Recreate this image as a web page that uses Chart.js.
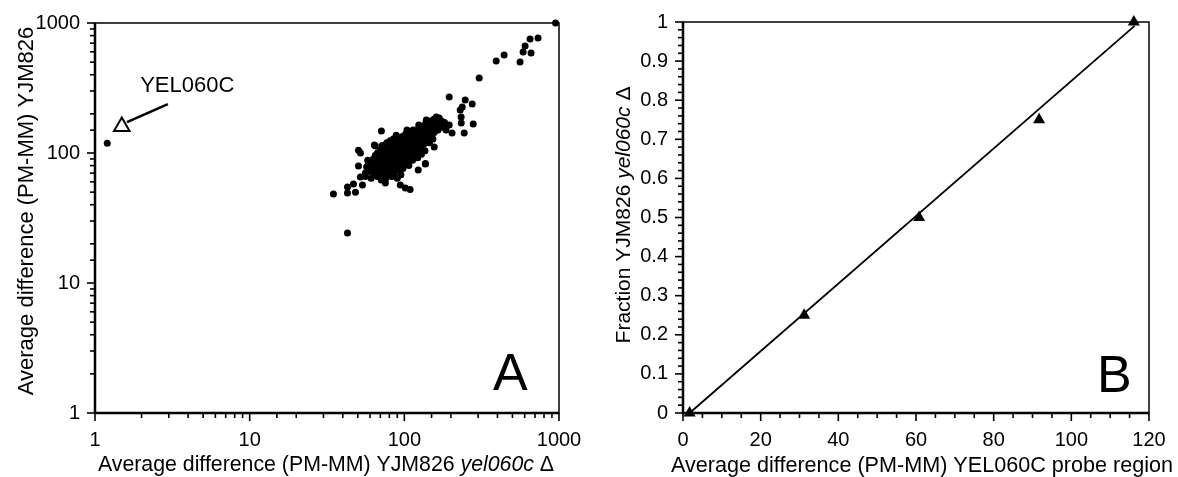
<!DOCTYPE html>
<html>
<head>
<meta charset="utf-8">
<script src="https://cdn.jsdelivr.net/npm/chart.js@4.4.1/dist/chart.umd.min.js"></script>
<style>
  body { margin: 0; background: #fff; }
  #wrap { position: relative; width: 1178px; height: 477px; }
  .box { position: absolute; top: 0; height: 477px; }
  #boxA { left: 0; width: 620px; }
  #boxB { left: 600px; width: 578px; }
</style>
</head>
<body>
<div id="wrap">
  <div class="box" id="boxA"><canvas id="chartA"></canvas></div>
  <div class="box" id="boxB"><canvas id="chartB"></canvas></div>
</div>
<script>
const FONT = "'Liberation Sans', Arial, Helvetica, sans-serif";

// Panel A: average difference per gene, [yel060c deletion strain, YJM826]
const genePairs = [
  [1.2, 119],
  // outliers around the cloud
  [34.8, 48.4], [42.9, 24.2], [42.9, 49.3], [48.3, 50], [42.9, 54.8], [46.9, 57.8],
  [53.6, 56.7], [52, 65.4], [50.5, 79.4], [50.5, 105], [52, 100], [65, 113], [71.1, 147.6],
  [94.2, 56.7], [101.5, 53.8], [109, 52.5], [123, 74], [136.6, 82.3], [75.4, 58.8],
  [69, 67.7], [58.6, 83.8], [56, 70.2], [61.2, 74], [64, 115], [88.6, 137], [104, 150],
  [124, 164], [139, 179], [145, 121], [137, 83], [156, 111], [176, 164],
  // upper tail
  [160.8, 189], [138.7, 179.4], [173, 170], [195, 164], [203.5, 142.6], [243.8, 142.6],
  [278.7, 167], [233.3, 170], [233, 189], [229.7, 214], [236.7, 225.9], [247.6, 255.7],
  [274.7, 238.3], [195, 269.6], [304.8, 377.5], [392.6, 510], [441.7, 567], [560, 501],
  [586, 598], [603.6, 665], [659.7, 588], [650, 753], [732, 767], [950, 1000],
  // dense cloud
  [56, 66], [57, 78], [58, 88], [59, 72], [60, 82], [61, 64], [62, 76], [63, 90], [64, 70],
  [64, 84], [65, 96], [66, 74], [66, 88], [67, 66], [67, 100], [68, 80], [68, 92], [69, 72],
  [70, 86], [70, 106], [71, 62], [71, 78], [72, 94], [72, 114], [73, 70], [73, 84], [74, 100],
  [74, 90], [75, 76], [75, 110], [76, 64], [76, 88], [76, 96], [77, 80], [77, 104], [77, 120],
  [78, 72], [78, 92], [79, 84], [79, 100], [79, 112], [80, 68], [80, 78], [80, 96], [81, 88],
  [81, 106], [81, 124], [82, 74], [82, 82], [82, 100], [83, 92], [83, 114], [83, 66], [84, 86],
  [84, 104], [84, 96], [85, 78], [85, 110], [85, 128], [86, 70], [86, 90], [86, 100], [87, 84],
  [87, 96], [87, 118], [88, 76], [88, 106], [88, 92], [89, 100], [89, 112], [89, 132], [90, 64],
  [90, 86], [90, 96], [91, 80], [91, 104], [91, 120], [92, 90], [92, 108], [93, 74], [93, 98],
  [93, 114], [94, 84], [94, 102], [94, 126], [95, 92], [95, 110], [95, 68], [96, 98], [96, 118],
  [97, 86], [97, 104], [97, 134], [98, 76], [98, 94], [98, 110], [99, 100], [99, 122], [100, 90],
  [100, 104], [100, 114], [101, 82], [101, 96], [101, 128], [102, 108], [102, 140], [103, 94],
  [103, 100], [103, 118], [104, 86], [104, 110], [105, 102], [105, 124], [105, 136], [106, 96],
  [106, 114], [107, 80], [107, 106], [107, 128], [108, 100], [108, 118], [109, 92], [109, 112],
  [109, 144], [110, 104], [110, 124], [111, 96], [111, 134], [112, 110], [112, 118], [113, 88],
  [113, 128], [114, 102], [114, 150], [115, 114], [115, 140], [116, 96], [116, 122], [117, 108],
  [117, 132], [118, 116], [119, 100], [119, 146], [120, 126], [120, 112], [121, 136], [122, 92],
  [122, 118], [123, 130], [124, 106], [124, 156], [125, 122], [126, 140], [127, 112], [128, 132],
  [129, 148], [129, 98], [130, 124], [131, 160], [132, 140], [133, 116], [134, 150], [135, 130],
  [136, 104], [137, 168], [138, 142], [139, 122], [140, 156], [141, 134], [143, 172], [144, 148],
  [145, 120], [146, 160], [148, 136], [149, 176], [150, 152], [152, 166], [153, 128], [155, 182],
  [156, 144], [158, 170], [160, 158], [163, 178], [165, 150], [168, 186], [170, 166], [174, 176],
  [178, 158], [182, 172], [186, 150],
  [84, 108], [86, 112], [90, 116], [92, 100], [96, 106], [98, 102], [100, 98], [102, 116],
  [104, 122], [106, 120], [108, 126], [110, 116], [112, 126], [114, 120], [116, 130], [118, 138],
  [120, 134], [124, 140], [126, 130], [128, 144], [132, 150], [134, 142], [136, 158], [140, 164],
  [78, 84], [80, 90], [82, 92], [88, 86], [92, 84], [94, 92], [96, 88], [100, 82], [104, 96]
];
const logTickLabels = [1, 10, 100, 1000];

// expected spot of YEL060C (open triangle) and its callout, in data units
const markerX = [1.49];
const markerY = [160];
const calloutFrom = [2.96, 238];
const calloutTo = [1.61, 173];
const calloutLabel = 'YEL060C';
const calloutAt = [3.95, 294];

// Panel B: probe signal vs fraction of deletion strain
const probeSignal = [1.7, 31.2, 60.8, 91.7, 116.1];
const fraction = [0, 0.25, 0.5, 0.75, 1];
const fitX = [1.7, 116.3];
const fitY = [0, 0.99];
const bXTickLabels = [0, 20, 40, 60, 80, 100, 120];
const bYTickLabels = [0, 0.1, 0.2, 0.3, 0.4, 0.5, 0.6, 0.7, 0.8, 0.9, 1];

function richText(ctx, segs, size, x, y, rotate) {
  ctx.save();
  ctx.translate(x, y);
  if (rotate) ctx.rotate(-Math.PI / 2);
  ctx.fillStyle = '#000';
  ctx.textBaseline = 'alphabetic';
  const widths = segs.map(s => {
    ctx.font = (s.italic ? 'italic ' : '') + size + 'px ' + FONT;
    return ctx.measureText(s.text).width;
  });
  let cx = -widths.reduce((a, b) => a + b, 0) / 2;
  segs.forEach((s, i) => {
    ctx.font = (s.italic ? 'italic ' : '') + size + 'px ' + FONT;
    ctx.fillText(s.text, cx, 0);
    cx += widths[i];
  });
  ctx.restore();
}

// box, tick marks, axis titles and panel letter
const framePlugin = {
  id: 'frame',
  afterDraw(chart, args, opts) {
    const { ctx, chartArea: a, scales } = chart;
    ctx.save();
    ctx.strokeStyle = '#000';
    ctx.lineWidth = 1.6;
    scales.x.ticks.forEach(t => {
      const px = scales.x.getPixelForValue(t.value);
      const len = t.label ? 8 : 5;
      ctx.beginPath();
      ctx.moveTo(px, a.bottom);
      ctx.lineTo(px, a.bottom + len);
      ctx.stroke();
    });
    scales.y.ticks.forEach(t => {
      const py = scales.y.getPixelForValue(t.value);
      const len = t.label ? 8 : 5;
      ctx.beginPath();
      ctx.moveTo(a.left, py);
      ctx.lineTo(a.left - len, py);
      ctx.stroke();
    });
    ctx.lineWidth = 1.5;
    ctx.strokeRect(a.left, a.top, a.right - a.left, a.bottom - a.top);
    ctx.lineWidth = 2.5;
    ctx.beginPath();
    ctx.moveTo(a.left, a.top);
    ctx.lineTo(a.left, a.bottom);
    ctx.lineTo(a.right, a.bottom);
    ctx.stroke();
    ctx.restore();

    richText(ctx, opts.xTitle.segs, opts.xTitle.size, opts.xTitle.x, opts.xTitle.y, false);
    richText(ctx, opts.yTitle.segs, opts.yTitle.size, opts.yTitle.x, opts.yTitle.y, true);

    ctx.save();
    ctx.fillStyle = '#000';
    ctx.font = '52px ' + FONT;
    ctx.textAlign = 'left';
    ctx.textBaseline = 'alphabetic';
    ctx.fillText(opts.letter.text, opts.letter.x, opts.letter.y);
    ctx.restore();
  }
};

const calloutPlugin = {
  id: 'callout',
  afterDatasetsDraw(chart) {
    const { ctx, scales: { x, y } } = chart;
    ctx.save();
    ctx.strokeStyle = '#000';
    ctx.lineWidth = 2.5;
    ctx.beginPath();
    ctx.moveTo(x.getPixelForValue(calloutFrom[0]), y.getPixelForValue(calloutFrom[1]));
    ctx.lineTo(x.getPixelForValue(calloutTo[0]), y.getPixelForValue(calloutTo[1]));
    ctx.stroke();
    ctx.fillStyle = '#000';
    ctx.font = '22px ' + FONT;
    ctx.textAlign = 'center';
    ctx.textBaseline = 'alphabetic';
    ctx.fillText(calloutLabel, x.getPixelForValue(calloutAt[0]), y.getPixelForValue(calloutAt[1]));
    ctx.restore();
  }
};

const tickFont = { family: FONT, size: 20 };
const noGrid = { display: false, drawTicks: false };

function fixX(h) {
  return s => { s.height = h; s.paddingLeft = 0; s.paddingRight = 0; };
}
function fixY(w) {
  return s => { s.width = w; s.paddingTop = 0; s.paddingBottom = 0; };
}

new Chart(document.getElementById('chartA'), {
  type: 'scatter',
  data: {
    datasets: [
      {
        data: markerX.map((v, i) => ({ x: v, y: markerY[i] })),
        pointStyle: 'triangle',
        pointRadius: 9,
        pointHoverRadius: 9,
        backgroundColor: '#fff',
        borderColor: '#000',
        borderWidth: 2
      },
      {
        data: genePairs.map(([x, y]) => ({ x, y })),
        pointRadius: 3.5,
        pointHoverRadius: 3.5,
        backgroundColor: '#000',
        borderWidth: 0,
        clip: false
      }
    ]
  },
  options: {
    responsive: true,
    maintainAspectRatio: false,
    animation: false,
    events: [],
    layout: { padding: { top: 23, right: 61, bottom: 0, left: 0 } },
    plugins: {
      legend: { display: false },
      tooltip: { enabled: false },
      frame: {
        xTitle: { x: 326, y: 471, size: 21.3, segs: [
          { text: 'Average difference (PM-MM) YJM826 ' },
          { text: 'yel060c', italic: true },
          { text: ' \u0394' }
        ] },
        yTitle: { x: 33, y: 211, size: 22, segs: [{ text: 'Average difference (PM-MM) YJM826' }] },
        letter: { text: 'A', x: 493, y: 390 }
      }
    },
    scales: {
      x: {
        type: 'logarithmic', min: 1, max: 1000,
        grid: noGrid, border: { display: false },
        ticks: {
          autoSkip: false, maxRotation: 0, padding: 15, color: '#000', font: tickFont,
          callback: v => logTickLabels.includes(v) ? String(v) : ''
        },
        afterFit: fixX(64)
      },
      y: {
        type: 'logarithmic', min: 1, max: 1000,
        grid: noGrid, border: { display: false },
        ticks: {
          autoSkip: false, padding: 15, color: '#000', font: tickFont,
          callback: v => logTickLabels.includes(v) ? String(v) : ''
        },
        afterFit: fixY(95)
      }
    }
  },
  plugins: [framePlugin, calloutPlugin]
});

new Chart(document.getElementById('chartB'), {
  type: 'scatter',
  data: {
    datasets: [
      {
        data: probeSignal.map((v, i) => ({ x: v, y: fraction[i] })),
        pointStyle: 'triangle',
        pointRadius: 7,
        pointHoverRadius: 7,
        backgroundColor: '#000',
        borderWidth: 0,
        clip: false
      },
      {
        data: fitX.map((v, i) => ({ x: v, y: fitY[i] })),
        showLine: true,
        borderColor: '#000',
        borderWidth: 1.8,
        pointRadius: 0,
        clip: false
      }
    ]
  },
  options: {
    responsive: true,
    maintainAspectRatio: false,
    animation: false,
    events: [],
    layout: { padding: { top: 22, right: 29, bottom: 0, left: 0 } },
    plugins: {
      legend: { display: false },
      tooltip: { enabled: false },
      frame: {
        xTitle: { x: 322, y: 472, size: 21.6, segs: [{ text: 'Average difference (PM-MM) YEL060C probe region' }] },
        yTitle: { x: 30, y: 215, size: 21, segs: [
          { text: 'Fraction YJM826 ' },
          { text: 'yel060c', italic: true },
          { text: ' \u0394' }
        ] },
        letter: { text: 'B', x: 497, y: 392 }
      }
    },
    scales: {
      x: {
        type: 'linear', min: 0, max: 120,
        grid: noGrid, border: { display: false },
        ticks: {
          stepSize: 5, autoSkip: false, maxRotation: 0, padding: 15, color: '#000', font: tickFont,
          callback: v => bXTickLabels.some(l => Math.abs(l - v) < 1e-6) ? String(Math.round(v)) : ''
        },
        afterFit: fixX(64)
      },
      y: {
        type: 'linear', min: 0, max: 1,
        grid: noGrid, border: { display: false },
        ticks: {
          stepSize: 0.02, autoSkip: false, padding: 15, color: '#000', font: tickFont,
          callback: v => bYTickLabels.some(l => Math.abs(l - v) < 1e-6) ? String(Math.round(v * 10) / 10) : ''
        },
        afterFit: fixY(83)
      }
    }
  },
  plugins: [framePlugin]
});
</script>
</body>
</html>
